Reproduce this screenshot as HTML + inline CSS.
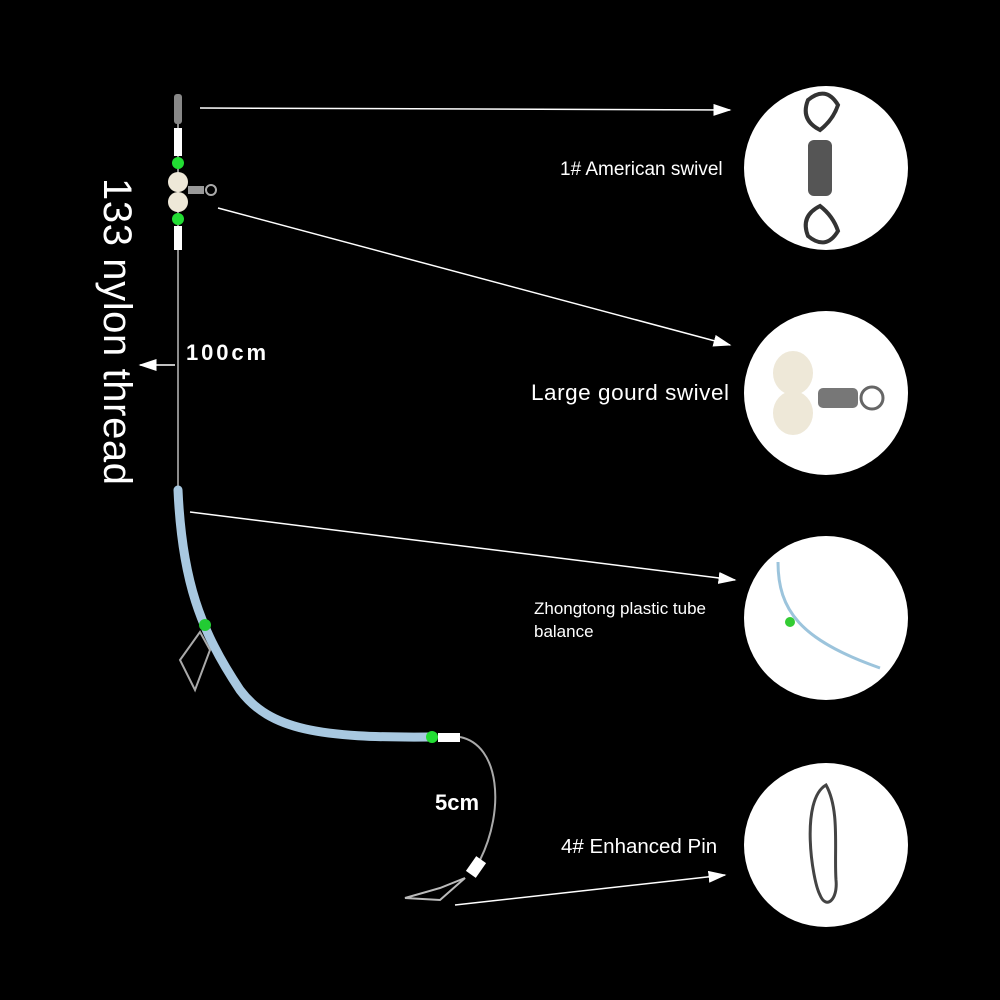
<!DOCTYPE html>
<html><head><style>
html,body{margin:0;padding:0;background:#000;}
svg{display:block}
text{font-family:"Liberation Sans",sans-serif;fill:#fff}
</style></head><body>
<svg width="1000" height="1000" viewBox="0 0 1000 1000">
<rect width="1000" height="1000" fill="#000"/>
<defs><marker id="ah" markerWidth="12" markerHeight="8" refX="11" refY="4" orient="auto"><path d="M0,0 L12,4 L0,8 z" fill="#fff"/></marker></defs>
<circle cx="826" cy="168" r="82" fill="#fff"/>
<circle cx="826" cy="393" r="82" fill="#fff"/>
<circle cx="826" cy="618" r="82" fill="#fff"/>
<circle cx="826" cy="845" r="82" fill="#fff"/>
<g fill="none" stroke="#333" stroke-width="4">
<path d="M808,100 q18,-15 30,5 q-5,15 -18,25 q-20,-10 -12,-30z"/>
<path d="M808,236 q18,15 30,-5 q-5,-15 -18,-25 q-20,10 -12,30z"/>
</g>
<rect x="808" y="140" width="24" height="56" rx="6" fill="#555"/>
<ellipse cx="793" cy="373" rx="20" ry="22" fill="#eee8d8"/>
<ellipse cx="793" cy="413" rx="20" ry="22" fill="#eee8d8"/>
<rect x="818" y="388" width="40" height="20" rx="5" fill="#777"/>
<circle cx="872" cy="398" r="11" fill="none" stroke="#666" stroke-width="3"/>
<path d="M778,562 C778,610 800,640 880,668" stroke="#9cc4dc" stroke-width="3" fill="none"/>
<circle cx="790" cy="622" r="5" fill="#3c3"/>
<path d="M826,785 C800,800 812,880 820,895 C826,910 838,900 836,880 C834,850 840,810 826,785z" fill="none" stroke="#444" stroke-width="3"/>
<text x="560" y="175" font-size="19">1# American swivel</text>
<text x="531" y="400" font-size="22.5" textLength="198">Large gourd swivel</text>
<text x="534" y="614" font-size="17">Zhongtong plastic tube</text>
<text x="534" y="637" font-size="17">balance</text>
<text x="561" y="853" font-size="20.5">4# Enhanced Pin</text>
<g stroke="#fff" stroke-width="1.5" marker-end="url(#ah)">
<line x1="200" y1="108" x2="730" y2="110"/>
<line x1="218" y1="208" x2="730" y2="345"/>
<line x1="190" y1="512" x2="735" y2="580"/>
<line x1="455" y1="905" x2="725" y2="875"/>
<line x1="175" y1="365" x2="140" y2="365"/>
</g>
<line x1="178" y1="95" x2="178" y2="490" stroke="#bbb" stroke-width="1.5"/>
<rect x="174" y="94" width="8" height="30" rx="3" fill="#888"/>
<rect x="174" y="128" width="8" height="28" fill="#fff"/>
<circle cx="178" cy="163" r="6" fill="#2d3"/>
<circle cx="178" cy="182" r="10" fill="#eee8d8"/>
<circle cx="178" cy="202" r="10" fill="#eee8d8"/>
<rect x="188" y="186" width="16" height="8" fill="#999"/>
<circle cx="211" cy="190" r="5" fill="none" stroke="#aaa" stroke-width="2"/>
<circle cx="178" cy="219" r="6" fill="#2d3"/>
<rect x="174" y="226" width="8" height="24" fill="#fff"/>
<path d="M178,490 C182,580 200,630 240,690 C270,730 320,738 430,737" stroke="#a8c8e0" stroke-width="9" fill="none" stroke-linecap="round"/>
<circle cx="205" cy="625" r="6" fill="#2c3"/>
<path d="M200,632 L180,660 L195,690 L210,650z" fill="none" stroke="#aaa" stroke-width="2"/>
<circle cx="432" cy="737" r="6" fill="#2d3"/>
<rect x="438" y="733" width="22" height="9" fill="#fff"/>
<path d="M460,737 C500,745 505,810 480,860" stroke="#aaa" stroke-width="2" fill="none"/>
<rect x="470" y="858" width="12" height="18" fill="#fff" transform="rotate(35 476 867)"/>
<path d="M465,878 L440,888 L405,898 L440,900z" fill="none" stroke="#bbb" stroke-width="2"/>
<text x="186" y="360" font-size="22" font-weight="bold" textLength="80">100cm</text>
<text x="435" y="810" font-size="22" font-weight="bold">5cm</text>
<text transform="translate(104,178) rotate(90)" font-size="40" textLength="307">133 nylon thread</text>
</svg>
</body></html>
